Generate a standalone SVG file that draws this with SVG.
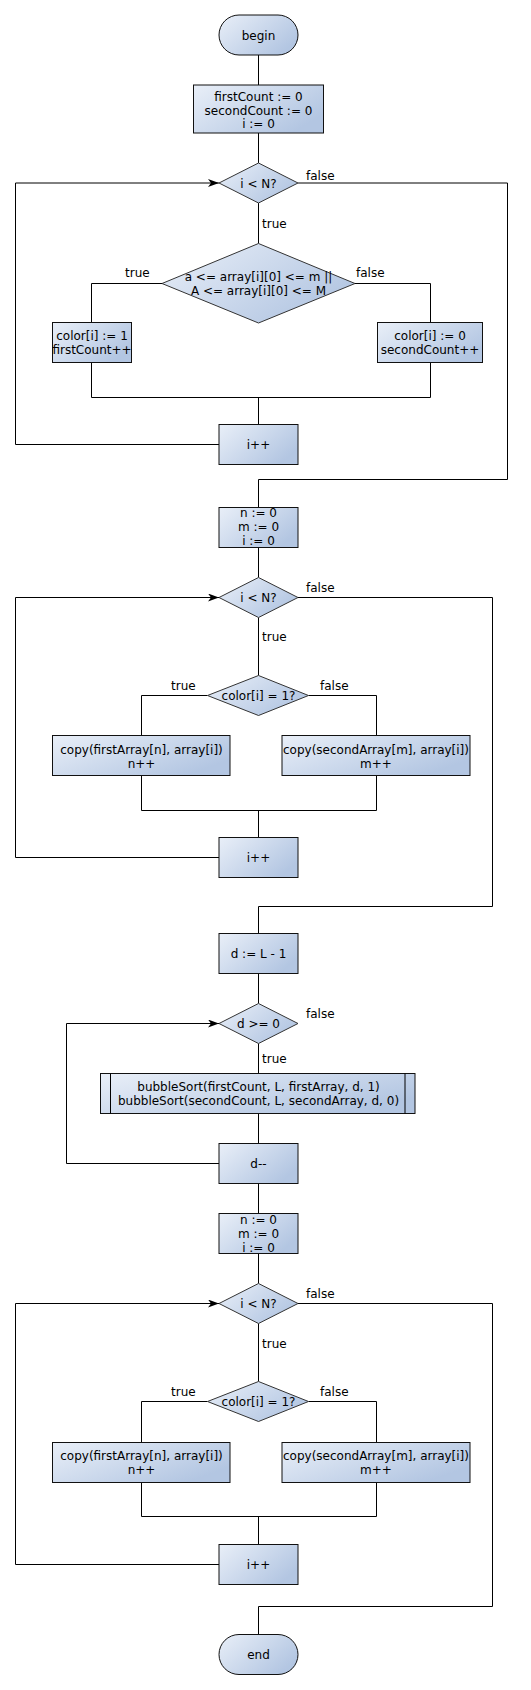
<svg xmlns="http://www.w3.org/2000/svg" width="531" height="1690" viewBox="0 0 531 1690">
<defs>
<linearGradient id="g" x1="0" y1="0" x2="1" y2="0.6">
<stop offset="0" stop-color="#e9eff8"/>
<stop offset="1" stop-color="#b3c6e2"/>
</linearGradient>
<marker id="arr" markerUnits="userSpaceOnUse" markerWidth="12" markerHeight="10" refX="11" refY="4" orient="auto">
<path d="M0,0 L11,4 L0,8 L3,4 Z" fill="#000"/>
</marker>
<style>
.n{fill:url(#g);stroke:#111;stroke-width:1}
.d{fill:url(#g);stroke:#333;stroke-width:1}
text{font-family:"DejaVu Sans",Verdana,sans-serif;font-size:12px;fill:#000}
.c{text-anchor:middle}
.e{fill:none;stroke:#000;stroke-width:1}
</style>
</defs>
<rect width="531" height="1690" fill="#fff"/>
<g id="connectors">
<path class="e" d="M258.5,55 V85"/>
<path class="e" d="M258.5,133 V163"/>
<path class="e" d="M258.5,203 V243.5"/>
<path class="e" d="M162,283.5 H91.5 V322.5"/>
<path class="e" d="M355,283.5 H430.5 V322.5"/>
<path class="e" d="M91.5,362.5 V397.5 H430.5 V362.5"/>
<path class="e" d="M258.5,397.5 V424.5"/>
<path class="e" d="M219,444.5 H15.5 V183 H219" marker-end="url(#arr)"/>
<path class="e" d="M298,183 H507.5 V479.5 H258.5 V507.5"/>
<path class="e" d="M258.5,547.5 V577.5"/>
<path class="e" d="M258.5,617.5 V675.5"/>
<path class="e" d="M207.5,695.5 H141.5 V735.5"/>
<path class="e" d="M308.5,695.5 H376.5 V735.5"/>
<path class="e" d="M141.5,775.5 V810.5 H376.5 V775.5"/>
<path class="e" d="M258.5,810.5 V837.5"/>
<path class="e" d="M219,857.5 H15.5 V597.5 H219" marker-end="url(#arr)"/>
<path class="e" d="M298,597.5 H492.5 V906.5 H258.5 V933.5"/>
<path class="e" d="M258.5,973.5 V1003.5"/>
<path class="e" d="M258.5,1043.5 V1073.5"/>
<path class="e" d="M258.5,1113.5 V1143.5"/>
<path class="e" d="M219,1163.5 H66.5 V1023.5 H219" marker-end="url(#arr)"/>
<path class="e" d="M258.5,1183.5 V1213.5"/>
<path class="e" d="M258.5,1253.5 V1283.5"/>
<path class="e" d="M258.5,1323.5 V1381.5"/>
<path class="e" d="M207.5,1401.5 H141.5 V1442.5"/>
<path class="e" d="M308.5,1401.5 H376.5 V1442.5"/>
<path class="e" d="M141.5,1482.5 V1516.5 H376.5 V1482.5"/>
<path class="e" d="M258.5,1516.5 V1544.5"/>
<path class="e" d="M219,1564.5 H15.5 V1303.5 H219" marker-end="url(#arr)"/>
<path class="e" d="M298,1303.5 H492.5 V1606.5 H258.5 V1634.5"/>
</g>
<g id="labels">
<text x="306" y="180">false</text>
<text x="262" y="228">true</text>
<text x="125" y="277">true</text>
<text x="356" y="277">false</text>
<text x="306" y="591.5">false</text>
<text x="262" y="640.5">true</text>
<text x="171" y="689.5">true</text>
<text x="320" y="689.5">false</text>
<text x="306" y="1017.5">false</text>
<text x="262" y="1062.5">true</text>
<text x="306" y="1297.5">false</text>
<text x="262" y="1347.5">true</text>
<text x="171" y="1396">true</text>
<text x="320" y="1396">false</text>
</g>
<g id="begin"><rect class="n" x="219" y="15" width="79" height="40" rx="20"/><text class="c" x="258.5" y="39.5">begin</text></g>
<g id="init1"><rect class="n" x="193.5" y="85" width="130" height="48"/><text class="c" x="258.5" y="101">firstCount := 0</text><text class="c" x="258.5" y="114.5">secondCount := 0</text><text class="c" x="258.5" y="128">i := 0</text></g>
<g id="cond1"><polygon class="d" points="258.5,163 298,183 258.5,203 219,183"/><text class="c" x="258.5" y="187.5">i &lt; N?</text></g>
<g id="cond2"><polygon class="d" points="258.5,243.5 355,283.5 258.5,323 162,283.5"/><text class="c" x="258.5" y="280.5">a &lt;= array[i][0] &lt;= m ||</text><text class="c" x="258.5" y="294.5">A &lt;= array[i][0] &lt;= M</text></g>
<g id="color1"><rect class="n" x="52.5" y="322.5" width="79" height="40"/><text class="c" x="92" y="340">color[i] := 1</text><text class="c" x="92" y="353.5">firstCount++</text></g>
<g id="color0"><rect class="n" x="377.5" y="322.5" width="105" height="40"/><text class="c" x="430" y="340">color[i] := 0</text><text class="c" x="430" y="353.5">secondCount++</text></g>
<g id="inc1"><rect class="n" x="219" y="424.5" width="79" height="40"/><text class="c" x="258.5" y="449">i++</text></g>
<g id="init2"><rect class="n" x="219" y="507.5" width="79" height="40"/><text class="c" x="258.5" y="517">n := 0</text><text class="c" x="258.5" y="531">m := 0</text><text class="c" x="258.5" y="545">i := 0</text></g>
<g id="cond3"><polygon class="d" points="258.5,577.5 298,597.5 258.5,617.5 219,597.5"/><text class="c" x="258.5" y="601.5">i &lt; N?</text></g>
<g id="cond4"><polygon class="d" points="258.5,675.5 308.5,695.5 258.5,715.5 207.5,695.5"/><text class="c" x="258.5" y="699.5">color[i] = 1?</text></g>
<g id="copy1"><rect class="n" x="52.5" y="735.5" width="177.5" height="40"/><text class="c" x="141.5" y="753.5">copy(firstArray[n], array[i])</text><text class="c" x="141.5" y="767.5">n++</text></g>
<g id="copy2"><rect class="n" x="282" y="735.5" width="188" height="40"/><text class="c" x="376" y="753.5">copy(secondArray[m], array[i])</text><text class="c" x="376" y="767.5">m++</text></g>
<g id="inc2"><rect class="n" x="219" y="837.5" width="79" height="40"/><text class="c" x="258.5" y="862">i++</text></g>
<g id="initd"><rect class="n" x="219" y="933.5" width="79" height="40"/><text class="c" x="258.5" y="957.5">d := L - 1</text></g>
<g id="cond5"><polygon class="d" points="258.5,1003.5 298,1023.5 258.5,1043.5 219,1023.5"/><text class="c" x="258.5" y="1027.5">d &gt;= 0</text></g>
<g id="sort"><rect class="n" x="100.5" y="1073.5" width="314.5" height="40"/><path class="e" d="M110.5,1073.5 V1113.5 M405,1073.5 V1113.5"/><text class="c" x="258.5" y="1090.5">bubbleSort(firstCount, L, firstArray, d, 1)</text><text class="c" x="258.5" y="1104.5">bubbleSort(secondCount, L, secondArray, d, 0)</text></g>
<g id="decd"><rect class="n" x="219" y="1143.5" width="79" height="40"/><text class="c" x="258.5" y="1167.5">d--</text></g>
<g id="init3"><rect class="n" x="219" y="1213.5" width="79" height="40"/><text class="c" x="258.5" y="1224">n := 0</text><text class="c" x="258.5" y="1238">m := 0</text><text class="c" x="258.5" y="1252">i := 0</text></g>
<g id="cond6"><polygon class="d" points="258.5,1283.5 298,1303.5 258.5,1323.5 219,1303.5"/><text class="c" x="258.5" y="1307.5">i &lt; N?</text></g>
<g id="cond7"><polygon class="d" points="258.5,1381.5 308.5,1401.5 258.5,1421.5 207.5,1401.5"/><text class="c" x="258.5" y="1405.5">color[i] = 1?</text></g>
<g id="copy3"><rect class="n" x="52.5" y="1442.5" width="177.5" height="40"/><text class="c" x="141.5" y="1459.5">copy(firstArray[n], array[i])</text><text class="c" x="141.5" y="1473.5">n++</text></g>
<g id="copy4"><rect class="n" x="282" y="1442.5" width="188" height="40"/><text class="c" x="376" y="1459.5">copy(secondArray[m], array[i])</text><text class="c" x="376" y="1473.5">m++</text></g>
<g id="inc3"><rect class="n" x="219" y="1544.5" width="79" height="40"/><text class="c" x="258.5" y="1568.5">i++</text></g>
<g id="end"><rect class="n" x="219" y="1634.5" width="79" height="40" rx="20"/><text class="c" x="258.5" y="1658.5">end</text></g>
</svg>
